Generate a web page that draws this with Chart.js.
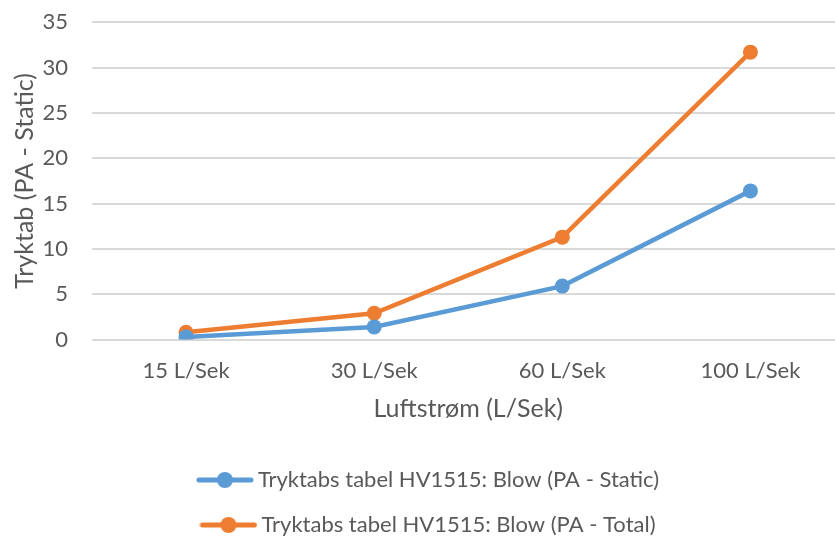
<!DOCTYPE html>
<html>
<head>
<meta charset="utf-8">
<script src="https://cdn.jsdelivr.net/npm/chart.js@4.4.1/dist/chart.umd.min.js"></script>
<style>
  html, body { margin: 0; padding: 0; background: #fff; overflow: hidden; }
  #wrap { width: 835px; height: 538px; overflow: hidden; }
  #wrap canvas { display: block; }
</style>
</head>
<body>
<div id="wrap"><canvas id="chartTryk" width="852" height="538"></canvas></div>
<script>
// === DATA ===
const kategorier = ["15 L/Sek", "30 L/Sek", "60 L/Sek", "100 L/Sek"];
const trykStatic = [0.3, 1.4, 5.9, 16.4];
const trykTotal = [0.8, 2.9, 11.3, 31.7];
const serieNavne = ["Tryktabs tabel HV1515: Blow (PA - Static)", "Tryktabs tabel HV1515: Blow (PA - Total)"];

const blaa = "#5B9BD5";
const orange = "#ED7D31";
const tekstFarve = "#595959";
const fontNavn = "Lato, 'Open Sans', sans-serif";

// legend marker: line with a dot in the middle
function lavMarker(farve) {
  const c = document.createElement("canvas");
  c.width = 58;
  c.height = 18;
  const g = c.getContext("2d");
  g.strokeStyle = farve;
  g.lineWidth = 5;
  g.lineCap = "round";
  g.beginPath();
  g.moveTo(3, 9);
  g.lineTo(55, 9);
  g.stroke();
  g.fillStyle = farve;
  g.beginPath();
  g.arc(29, 9, 8, 0, Math.PI * 2);
  g.fill();
  return c;
}
const markers = [lavMarker(blaa), lavMarker(orange)];

const ctx = document.getElementById("chartTryk").getContext("2d");
const chartTryk = new Chart(ctx, {
  type: "line",
  data: {
    labels: kategorier,
    datasets: [{
      label: serieNavne[0],
      data: trykStatic,
      borderColor: blaa,
      backgroundColor: blaa,
      borderWidth: 4.5,
      pointRadius: 7.5,
      pointHoverRadius: 7.5,
      pointBorderWidth: 0,
      tension: 0
    }, {
      label: serieNavne[1],
      data: trykTotal,
      borderColor: orange,
      backgroundColor: orange,
      borderWidth: 4.5,
      pointRadius: 7.5,
      pointHoverRadius: 7.5,
      pointBorderWidth: 0,
      tension: 0
    }]
  },
  options: {
    responsive: false,
    animation: false,
    layout: { padding: { top: 0, right: 0, left: 10, bottom: -8 } },
    plugins: {
      tooltip: { enabled: false },
      legend: {
        position: "bottom",
        labels: {
          usePointStyle: true,
          pointStyleWidth: 44,
          padding: 23,
          color: tekstFarve,
          font: { family: fontNavn, size: 22 },
          generateLabels: (chart) => {
            const items = Chart.defaults.plugins.legend.labels.generateLabels(chart);
            items.forEach((it, i) => { it.pointStyle = markers[i]; });
            return items;
          }
        }
      }
    },
    scales: {
      x: {
        offset: true,
        grid: { display: false },
        border: { display: false },
        ticks: { color: tekstFarve, font: { family: fontNavn, size: 22 }, padding: 10 },
        title: { display: true, text: "Luftstrøm (L/Sek)", color: tekstFarve, font: { family: fontNavn, size: 25 }, padding: { top: 0, bottom: 22 } }
      },
      y: {
        min: 0,
        max: 35,
        afterFit: (scale) => { scale.width = 82; },
        ticks: { stepSize: 5, color: tekstFarve, font: { family: fontNavn, size: 22 }, padding: 9 },
        grid: { color: "#D9D9D9", lineWidth: 2, drawTicks: true, tickLength: 15, tickColor: "rgba(0,0,0,0)" },
        border: { display: false },
        title: { display: true, text: "Tryktab (PA - Static)", color: tekstFarve, font: { family: fontNavn, size: 25 }, padding: { top: 0, bottom: 4 } }
      }
    }
  }
});
</script>
</body>
</html>
